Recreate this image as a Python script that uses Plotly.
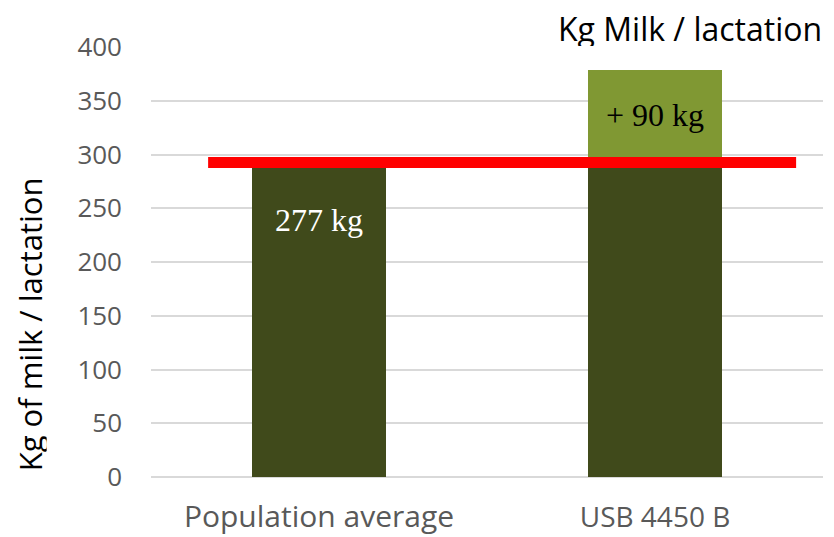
import plotly.graph_objects as go

categories = ["Population average", "USB 4450 B"]
base_values = [289, 289]
gain_values = [0, 90]
reference_level = 292.6
bar_labels = ["277 kg", "+ 90 kg"]
y_ticks = [0, 50, 100, 150, 200, 250, 300, 350, 400]

x_pos = [0, 1]

fig = go.Figure()
fig.add_trace(go.Bar(x=x_pos, y=base_values, marker_color="#404a1b", width=0.4,
                     marker_line_width=0, showlegend=False, hoverinfo="skip"))
fig.add_trace(go.Bar(x=x_pos, y=gain_values, marker_color="#809833", width=0.4,
                     marker_line_width=0, showlegend=False, hoverinfo="skip"))
fig.add_trace(go.Scatter(x=[-0.33, 1.42], y=[reference_level, reference_level], mode="lines",
                         line=dict(color="#ff0000", width=11), showlegend=False, hoverinfo="skip"))

fig.add_annotation(x=0, y=239, text=bar_labels[0], showarrow=False,
                   font=dict(family="Liberation Serif", size=32, color="white"))
fig.add_annotation(x=1, y=337, text=bar_labels[1], showarrow=False,
                   font=dict(family="Liberation Serif", size=32, color="black"))

fig.add_annotation(xref="paper", yref="paper", x=1.0, y=1.0, xanchor="right", yanchor="bottom",
                   yshift=0, xshift=0, text="Kg Milk / lactation", showarrow=False,
                   height=36, borderpad=0, valign="middle",
                   font=dict(family="Open Sans", size=32, color="black"))

fig.add_annotation(xref="paper", x=0, y=142, xanchor="center", yanchor="middle",
                   xshift=-121, textangle=-90, text="Kg of milk / lactation", showarrow=False,
                   height=34, borderpad=0, valign="middle",
                   font=dict(family="Open Sans", size=31, color="black"))

fig.update_layout(
    width=834, height=537, barmode="stack", bargap=0,
    margin=dict(l=143, r=19, t=39, b=68, autoexpand=False),
    plot_bgcolor="white", paper_bgcolor="white",
    font=dict(family="Open Sans", color="#595959"),
)
fig.update_xaxes(range=[-0.5, 1.5], tickvals=x_pos,
                 ticktext=[categories[0], '<span style="font-size:28px">' + categories[1] + '</span>'],
                 tickfont=dict(size=30, color="#595959"), showgrid=False, zeroline=False,
                 showline=False, ticks="", ticklabelstandoff=19, automargin=False)
fig.update_yaxes(range=[0, 400], tickvals=y_ticks, showgrid=True, gridcolor="#d9d9d9",
                 gridwidth=1.5, zeroline=True, zerolinecolor="#d9d9d9", zerolinewidth=1.5,
                 tickfont=dict(size=26, color="#595959"), ticks="", ticklabelstandoff=28,
                 automargin=False)

fig.write_html("out.html")
